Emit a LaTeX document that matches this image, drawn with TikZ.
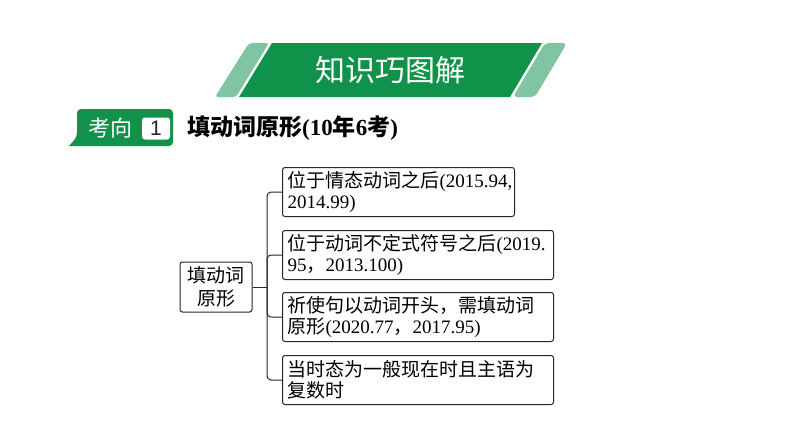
\documentclass[tikz,border=0pt]{standalone}
\usepackage{fontspec}
\setmainfont{Liberation Serif}
\setsansfont{Liberation Sans}
\newfontfamily\cjk{Noto Sans CJK SC}
\newcommand\zh[1]{{\cjk #1}}
\definecolor{dkgreen}{HTML}{10924A}
\definecolor{ltgreen}{HTML}{80C4A2}
\begin{document}
\begin{tikzpicture}[x=1pt,y=-1pt,
  box/.style={draw=black!85, line width=1pt, rounded corners=2.5pt, anchor=north west, align=left,
    inner xsep=5pt, inner ysep=2pt, minimum height=49pt, font=\fontsize{19}{21}\selectfont},
  link/.style={draw=black!85, line width=1pt, rounded corners=4pt}]
\useasboundingbox (0,0) rectangle (794,447);
\fill[white] (0,0) rectangle (794,447);
% banner
\fill[ltgreen, rounded corners=3pt] (215,97) -- (249,43) -- (269,43) -- (236,97) -- cycle;
\fill[dkgreen] (239,97) -- (272,43) -- (542,43) -- (510,97) -- cycle;
\fill[ltgreen, rounded corners=4pt] (513,97) -- (545,43) -- (567,43) -- (535,97) -- cycle;
\node[text=white, font=\cjk\fontsize{30}{30}\selectfont] (banner) at (390,70) {知识巧图解};
% tab
\fill[dkgreen] (69,146) [rounded corners=4pt] -- (77,137) -- (77,109) -- (173,109) -- (173,146) [sharp corners] -- cycle;
\node[text=white, font=\cjk\fontsize{22}{22}\selectfont] (kx) at (110,128) {考向};
\node[fill=white, rounded corners=3pt, minimum width=28pt, minimum height=22pt, inner sep=0pt,
  font=\sffamily\fontsize{21}{21}\selectfont, text=black!85] (num) at (156,128.5) {1};
\node[anchor=west, inner sep=0pt, font=\fontsize{23}{23}\selectfont\bfseries] (title) at (187,128)
  {\zh{填动词原形}(10\zh{年}6\zh{考})};
% root
\node[draw=black!85, line width=1pt, rounded corners=2.5pt, minimum width=72pt, minimum height=50pt,
  align=center, inner sep=2pt, font=\cjk\fontsize{19}{23}\selectfont] (root) at (216,287) {填动词\\原形};
\coordinate (hub) at (267,287);
% boxes
\node[box, text width=222pt] (b1) at (282,167) {\zh{位于情态动词之后}(2015.94,\\2014.99)};
\node[box, text width=261pt] (b2) at (282,230) {\zh{位于动词不定式符号之后}(2019.\\95\zh{，}2013.100)};
\node[box, text width=261pt] (b3) at (282,292) {\zh{祈使句以动词开头，需填动词}\\\zh{原形}(2020.77\zh{，}2017.95)};
\node[box, text width=261pt] (b4) at (282,355) {\zh{当时态为一般现在时且主语为}\\\zh{复数时}};
% connectors
\draw[link] (root.east) -- (hub);
\draw[link] (hub) |- (b1.west);
\draw[link] (hub) |- (b2.west);
\draw[link] (hub) |- (b3.west);
\draw[link] (hub) |- (b4.west);
\end{tikzpicture}
\end{document}
